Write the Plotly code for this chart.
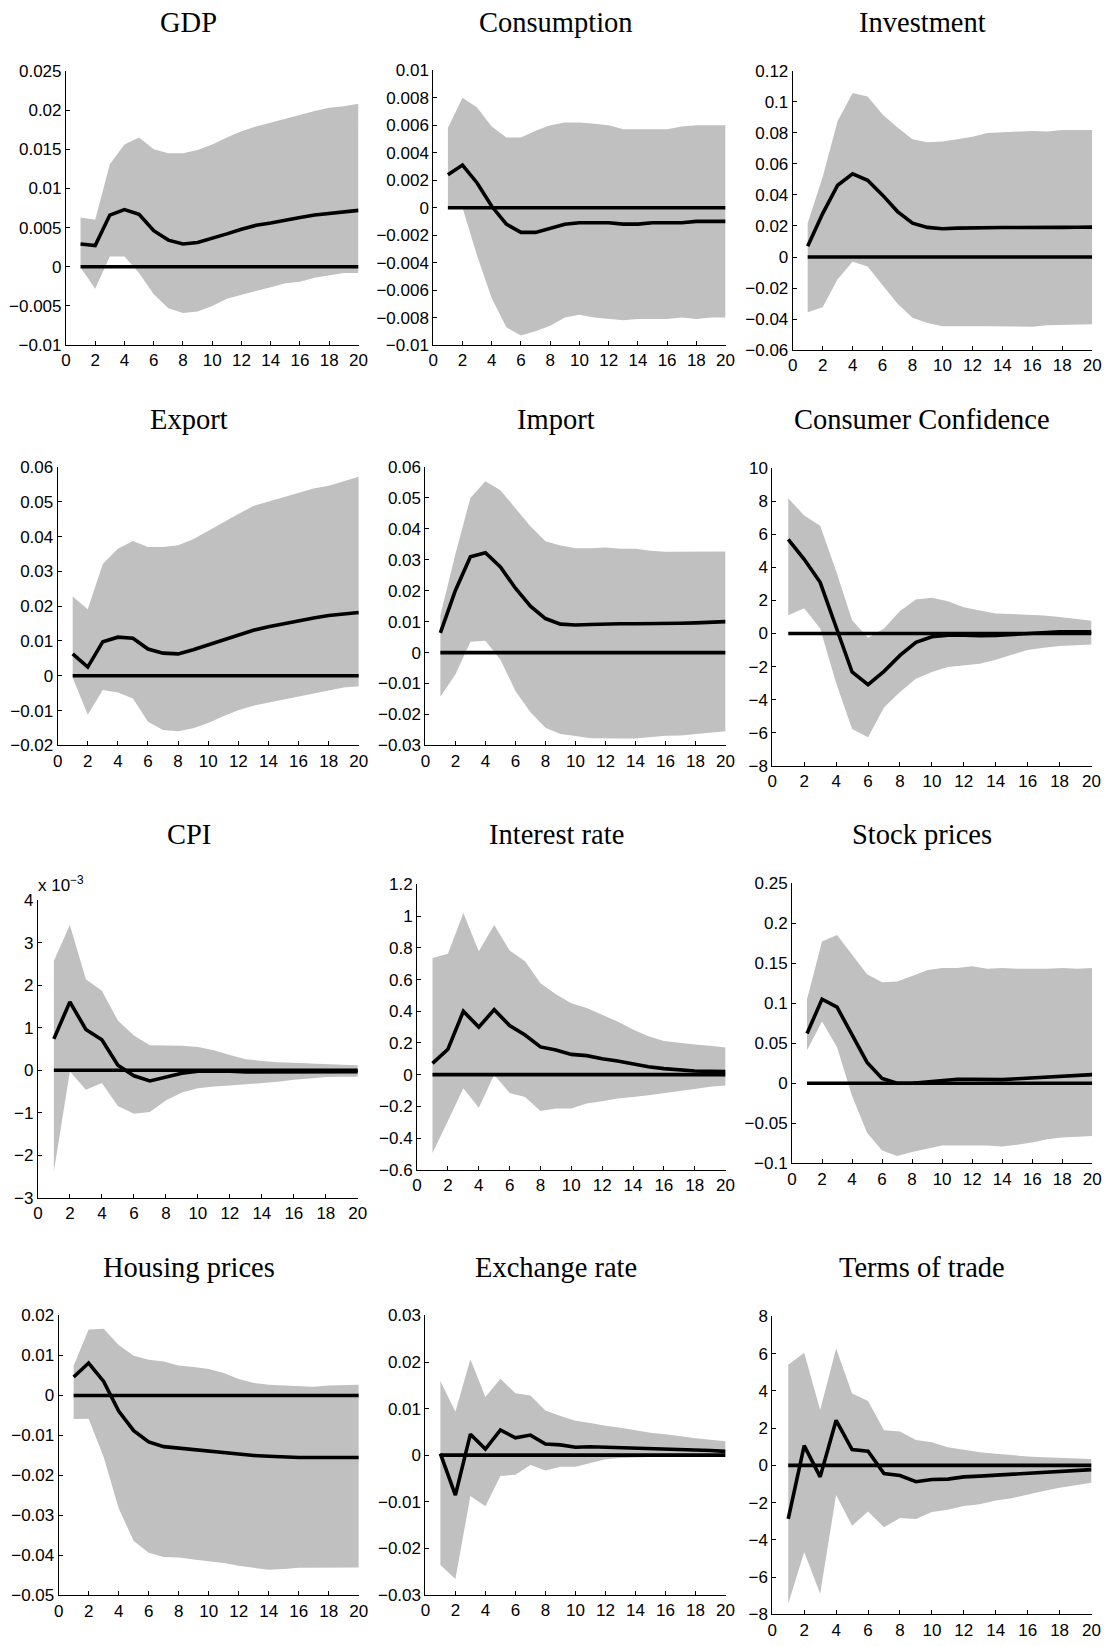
import plotly.graph_objects as go

W, H = 1118, 1646
horizon = list(range(1, 21))

titles = ["GDP", "Consumption", "Investment",
          "Export", "Import", "Consumer Confidence",
          "CPI", "Interest rate", "Stock prices",
          "Housing prices", "Exchange rate", "Terms of trade"]

# ---- data ----
gdp_median = [0.0029, 0.0027, 0.0066, 0.0073, 0.0067, 0.0046, 0.0034, 0.0029, 0.0031, 0.0036,
              0.0042, 0.0048, 0.0053, 0.0056, 0.0060, 0.0063, 0.0066, 0.0068, 0.0070, 0.0072]
gdp_upper = [0.0063, 0.0060, 0.0131, 0.0156, 0.0165, 0.0150, 0.0145, 0.0145, 0.0149, 0.0156,
             0.0165, 0.0173, 0.0179, 0.0184, 0.0189, 0.0194, 0.0199, 0.0203, 0.0205, 0.0208]
gdp_lower = [-0.0001, -0.0028, 0.0013, 0.0013, -0.0008, -0.0035, -0.0053, -0.0059, -0.0057, -0.0050,
             -0.0041, -0.0036, -0.0031, -0.0026, -0.0021, -0.0019, -0.0014, -0.0011, -0.0008, -0.0008]

cons_median = [0.0024, 0.0031, 0.0018, 0.0001, -0.0012, -0.0018, -0.0018, -0.0015, -0.0012, -0.0011,
               -0.0011, -0.0011, -0.0012, -0.0012, -0.0011, -0.0011, -0.0011, -0.0010, -0.0010, -0.0010]
cons_upper = [0.0058, 0.0080, 0.0073, 0.0059, 0.0051, 0.0051, 0.0056, 0.0060, 0.0062, 0.0062,
              0.0061, 0.0060, 0.0057, 0.0057, 0.0057, 0.0057, 0.0059, 0.0060, 0.0060, 0.0060]
cons_lower = [0.0001, 0.0000, -0.0035, -0.0066, -0.0087, -0.0093, -0.0090, -0.0086, -0.0080, -0.0078,
              -0.0080, -0.0081, -0.0082, -0.0081, -0.0081, -0.0081, -0.0080, -0.0081, -0.0080, -0.0080]

inv_median = [0.0069, 0.0280, 0.0463, 0.0537, 0.0495, 0.0399, 0.0293, 0.0218, 0.0191, 0.0182,
              0.0186, 0.0189, 0.0190, 0.0190, 0.0190, 0.0189, 0.0190, 0.0191, 0.0192, 0.0193]
inv_upper = [0.0218, 0.0516, 0.0877, 0.1058, 0.1036, 0.0920, 0.0835, 0.0760, 0.0740, 0.0745,
             0.0760, 0.0775, 0.0800, 0.0805, 0.0807, 0.0813, 0.0810, 0.0820, 0.0820, 0.0820]
inv_lower = [-0.0356, -0.0324, -0.0143, -0.0030, -0.0062, -0.0181, -0.0302, -0.0392, -0.0426, -0.0447,
             -0.0445, -0.0447, -0.0447, -0.0446, -0.0448, -0.0450, -0.0440, -0.0440, -0.0437, -0.0434]

exp_median = [0.0063, 0.0025, 0.0098, 0.0111, 0.0108, 0.0077, 0.0065, 0.0063, 0.0075, 0.0089,
              0.0105, 0.0119, 0.0131, 0.0141, 0.0150, 0.0159, 0.0166, 0.0173, 0.0178, 0.0182]
exp_upper = [0.0228, 0.0191, 0.0321, 0.0365, 0.0387, 0.0370, 0.0370, 0.0375, 0.0392, 0.0417,
             0.0441, 0.0465, 0.0488, 0.0501, 0.0513, 0.0526, 0.0538, 0.0546, 0.0558, 0.0572]
exp_lower = [-0.0006, -0.0112, -0.0041, -0.0048, -0.0065, -0.0132, -0.0156, -0.0159, -0.0151, -0.0136,
             -0.0116, -0.0099, -0.0086, -0.0079, -0.0070, -0.0061, -0.0051, -0.0042, -0.0034, -0.0030]

imp_median = [0.0064, 0.0201, 0.0310, 0.0323, 0.0277, 0.0208, 0.0150, 0.0110, 0.0092, 0.0089,
              0.0091, 0.0093, 0.0093, 0.0093, 0.0093, 0.0093, 0.0095, 0.0096, 0.0098, 0.0100]
imp_upper = [0.0121, 0.0318, 0.0500, 0.0554, 0.0525, 0.0467, 0.0408, 0.0360, 0.0346, 0.0337,
             0.0337, 0.0340, 0.0336, 0.0336, 0.0329, 0.0326, 0.0326, 0.0327, 0.0327, 0.0327]
imp_lower = [-0.0143, -0.0071, 0.0035, 0.0038, -0.0023, -0.0124, -0.0193, -0.0243, -0.0263, -0.0270,
             -0.0277, -0.0278, -0.0278, -0.0278, -0.0273, -0.0269, -0.0268, -0.0263, -0.0258, -0.0254]

conf_median = [5.68, 4.48, 3.09, 0.30, -2.33, -3.09, -2.29, -1.33, -0.54, -0.20,
               -0.10, -0.10, -0.14, -0.12, -0.06, 0.00, 0.06, 0.10, 0.10, 0.10]
conf_upper = [8.17, 7.13, 6.51, 3.78, 0.80, -0.26, 0.30, 1.35, 2.05, 2.15,
              1.95, 1.59, 1.39, 1.20, 1.18, 1.14, 1.08, 1.00, 0.88, 0.76]
conf_lower = [1.10, 1.53, 0.30, -2.99, -5.78, -6.27, -4.48, -3.53, -2.73, -2.33,
              -2.03, -1.93, -1.83, -1.59, -1.29, -1.00, -0.86, -0.76, -0.70, -0.66]

# CPI values in units of 1e-3
cpi_median = [0.74, 1.61, 0.96, 0.72, 0.12, -0.13, -0.25, -0.15, -0.07, -0.02,
              -0.01, -0.02, -0.04, -0.04, -0.04, -0.04, -0.03, -0.03, -0.03, -0.03]
cpi_upper = [2.58, 3.42, 2.14, 1.87, 1.17, 0.82, 0.59, 0.58, 0.58, 0.55,
             0.47, 0.36, 0.26, 0.22, 0.19, 0.18, 0.16, 0.15, 0.13, 0.12]
cpi_lower = [-2.38, -0.03, -0.46, -0.30, -0.84, -1.02, -0.98, -0.71, -0.52, -0.42,
             -0.38, -0.36, -0.34, -0.30, -0.27, -0.22, -0.19, -0.16, -0.15, -0.15]

rate_median = [0.071, 0.160, 0.400, 0.300, 0.410, 0.310, 0.250, 0.175, 0.155, 0.128,
               0.120, 0.100, 0.086, 0.067, 0.050, 0.038, 0.030, 0.023, 0.021, 0.019]
rate_upper = [0.736, 0.763, 1.020, 0.778, 0.944, 0.784, 0.716, 0.576, 0.507, 0.451,
              0.420, 0.379, 0.335, 0.285, 0.243, 0.212, 0.200, 0.190, 0.182, 0.171]
rate_lower = [-0.494, -0.292, -0.085, -0.209, -0.001, -0.116, -0.141, -0.230, -0.214, -0.214,
              -0.182, -0.167, -0.151, -0.141, -0.130, -0.120, -0.105, -0.091, -0.076, -0.068]

stock_median = [0.062, 0.105, 0.095, 0.060, 0.026, 0.006, 0.000, 0.000, 0.002, 0.004,
                0.005, 0.005, 0.0045, 0.0045, 0.0055, 0.0066, 0.0078, 0.0086, 0.0095, 0.0107]
stock_upper = [0.105, 0.177, 0.185, 0.161, 0.136, 0.126, 0.127, 0.134, 0.141, 0.144,
               0.144, 0.146, 0.143, 0.144, 0.143, 0.143, 0.143, 0.144, 0.143, 0.144]
stock_lower = [0.041, 0.077, 0.045, -0.016, -0.062, -0.084, -0.091, -0.086, -0.082, -0.078,
               -0.078, -0.078, -0.078, -0.079, -0.077, -0.074, -0.070, -0.068, -0.067, -0.066]

house_median = [0.0046, 0.0081, 0.0035, -0.0039, -0.0088, -0.0116, -0.0128, -0.0132, -0.0134, -0.0138,
                -0.0142, -0.0146, -0.0150, -0.0152, -0.0154, -0.0155, -0.0155, -0.0155, -0.0155, -0.0155]
house_upper = [0.0074, 0.0165, 0.0167, 0.0126, 0.0099, 0.0089, 0.0085, 0.0075, 0.0071, 0.0066,
               0.0056, 0.0041, 0.0031, 0.0027, 0.0025, 0.0023, 0.0022, 0.0025, 0.0026, 0.0027]
house_lower = [-0.0059, -0.0058, -0.0154, -0.0282, -0.0364, -0.0393, -0.0404, -0.0405, -0.0410, -0.0415,
               -0.0419, -0.0426, -0.0431, -0.0436, -0.0434, -0.0431, -0.0431, -0.0430, -0.0430, -0.0430]

fx_median = [0.0003, -0.0086, 0.0045, 0.0013, 0.0054, 0.0037, 0.0043, 0.0024, 0.0022, 0.0017,
             0.0018, 0.0017, 0.0017, 0.0016, 0.0015, 0.0013, 0.0012, 0.0011, 0.0010, 0.0008]
fx_upper = [0.0159, 0.0093, 0.0206, 0.0125, 0.0164, 0.0133, 0.0128, 0.0096, 0.0084, 0.0074,
            0.0069, 0.0063, 0.0059, 0.0053, 0.0048, 0.0045, 0.0040, 0.0036, 0.0033, 0.0030]
fx_lower = [-0.0236, -0.0266, -0.0088, -0.0110, -0.0045, -0.0042, -0.0021, -0.0033, -0.0025, -0.0025,
            -0.0017, -0.0009, -0.0006, -0.0005, -0.0004, -0.0004, -0.0004, -0.0003, -0.0003, -0.0003]

tot_median = [-2.88, 1.06, -0.62, 2.42, 0.85, 0.76, -0.44, -0.55, -0.88, -0.76,
              -0.74, -0.62, -0.58, -0.53, -0.50, -0.44, -0.39, -0.34, -0.28, -0.23]
tot_upper = [5.40, 6.05, 2.97, 6.28, 3.86, 3.45, 1.89, 1.82, 1.36, 1.24,
             0.97, 0.83, 0.71, 0.62, 0.53, 0.48, 0.44, 0.41, 0.37, 0.34]
tot_lower = [-7.43, -4.65, -6.90, -1.59, -3.24, -2.48, -3.33, -2.83, -2.88, -2.51,
             -2.39, -2.18, -2.09, -1.89, -1.77, -1.59, -1.38, -1.20, -1.06, -0.94]

# y tick labels per panel
gdp_yticks = ["-0.01", "-0.005", "0", "0.005", "0.01", "0.015", "0.02", "0.025"]
cons_yticks = ["-0.01", "-0.008", "-0.006", "-0.004", "-0.002", "0", "0.002", "0.004", "0.006", "0.008", "0.01"]
inv_yticks = ["-0.06", "-0.04", "-0.02", "0", "0.02", "0.04", "0.06", "0.08", "0.1", "0.12"]
exp_yticks = ["-0.02", "-0.01", "0", "0.01", "0.02", "0.03", "0.04", "0.05", "0.06"]
imp_yticks = ["-0.03", "-0.02", "-0.01", "0", "0.01", "0.02", "0.03", "0.04", "0.05", "0.06"]
conf_yticks = ["-8", "-6", "-4", "-2", "0", "2", "4", "6", "8", "10"]
cpi_yticks = ["-3", "-2", "-1", "0", "1", "2", "3", "4"]
rate_yticks = ["-0.6", "-0.4", "-0.2", "0", "0.2", "0.4", "0.6", "0.8", "1", "1.2"]
stock_yticks = ["-0.1", "-0.05", "0", "0.05", "0.1", "0.15", "0.2", "0.25"]
house_yticks = ["-0.05", "-0.04", "-0.03", "-0.02", "-0.01", "0", "0.01", "0.02"]
fx_yticks = ["-0.03", "-0.02", "-0.01", "0", "0.01", "0.02", "0.03"]
tot_yticks = ["-8", "-6", "-4", "-2", "0", "2", "4", "6", "8"]
x_ticks = ["0", "2", "4", "6", "8", "10", "12", "14", "16", "18", "20"]

series = [
    (gdp_median, gdp_upper, gdp_lower, gdp_yticks),
    (cons_median, cons_upper, cons_lower, cons_yticks),
    (inv_median, inv_upper, inv_lower, inv_yticks),
    (exp_median, exp_upper, exp_lower, exp_yticks),
    (imp_median, imp_upper, imp_lower, imp_yticks),
    (conf_median, conf_upper, conf_lower, conf_yticks),
    (cpi_median, cpi_upper, cpi_lower, cpi_yticks),
    (rate_median, rate_upper, rate_lower, rate_yticks),
    (stock_median, stock_upper, stock_lower, stock_yticks),
    (house_median, house_upper, house_lower, house_yticks),
    (fx_median, fx_upper, fx_lower, fx_yticks),
    (tot_median, tot_upper, tot_lower, tot_yticks),
]

# axes boxes in pixels: left, right, top, bottom
boxes = [
    (61.7, 358.0, 62.7, 340.0), (433.7, 729.7, 62.0, 340.0), (797.7, 1101.0, 62.7, 345.0),
    (53.3, 358.3, 463.3, 745.0), (425.7, 729.7, 463.3, 745.0), (777.0, 1100.3, 464.3, 765.7),
    (33.3, 357.3, 901.7, 1202.7), (417.3, 729.7, 885.7, 1174.3), (797.0, 1101.0, 884.3, 1167.7),
    (54.3, 358.3, 1321.7, 1605.0), (425.7, 729.7, 1321.7, 1604.3), (777.0, 1100.3, 1322.7, 1624.0),
]
col_centers = [186, 558, 929]
row_title_y = [14, 415, 835, 1273]

BAND = "rgb(192,192,192)"
LW = 3.6
tick_font = dict(family="Liberation Sans, Arial, sans-serif", size=17, color="black")

fig = go.Figure()
layout = dict(
    width=W, height=H, margin=dict(l=0, r=0, t=0, b=0),
    paper_bgcolor="white", plot_bgcolor="white", showlegend=False,
    annotations=[],
)

for i, (med, up, lo, yt) in enumerate(series):
    n = i + 1
    xa = "x" if n == 1 else f"x{n}"
    ya = "y" if n == 1 else f"y{n}"
    fig.add_trace(go.Scatter(x=horizon + horizon[::-1], y=up + lo[::-1], xaxis=xa, yaxis=ya,
                             fill="toself", fillcolor=BAND, line=dict(width=0, color=BAND),
                             mode="lines", hoverinfo="skip"))
    fig.add_trace(go.Scatter(x=horizon, y=med, xaxis=xa, yaxis=ya, mode="lines",
                             line=dict(color="black", width=LW)))
    fig.add_trace(go.Scatter(x=horizon, y=[0] * len(horizon), xaxis=xa, yaxis=ya, mode="lines",
                             line=dict(color="black", width=LW)))
    l, r, t, b = boxes[i]
    yvals = [float(s) for s in yt]
    ytext = [s.replace("-", "\u2212") for s in yt]
    xvals = [float(s) for s in x_ticks]
    axcommon = dict(showline=True, linecolor="black", linewidth=1, mirror=False,
                    showgrid=False, zeroline=False, ticks="inside", ticklen=4,
                    tickwidth=1, tickcolor="black", tickfont=tick_font)
    layout["xaxis" if n == 1 else f"xaxis{n}"] = dict(
        domain=[l / W, r / W], anchor=ya, range=[0, 20],
        tickmode="array", tickvals=xvals, ticktext=x_ticks, **axcommon)
    layout["yaxis" if n == 1 else f"yaxis{n}"] = dict(
        domain=[1 - b / H, 1 - t / H], anchor=xa, range=[yvals[0], yvals[-1]],
        tickmode="array", tickvals=yvals, ticktext=ytext, **axcommon)
    layout["annotations"].append(dict(
        text=titles[i], xref="paper", yref="paper",
        x=col_centers[i % 3] / W, y=1 - row_title_y[i // 3] / H,
        xanchor="center", yanchor="middle", showarrow=False,
        font=dict(family="Liberation Serif, Times New Roman, serif", size=28.5, color="black")))

# exponent label for CPI panel
layout["annotations"].append(dict(
    text="x 10<sup>\u22123</sup>", xref="paper", yref="paper",
    x=31 / W, y=1 - 898 / H, xanchor="left", yanchor="bottom", showarrow=False,
    font=dict(family="Liberation Sans, Arial, sans-serif", size=17, color="black")))

fig.update_layout(**layout)
fig.write_html("out.html")
